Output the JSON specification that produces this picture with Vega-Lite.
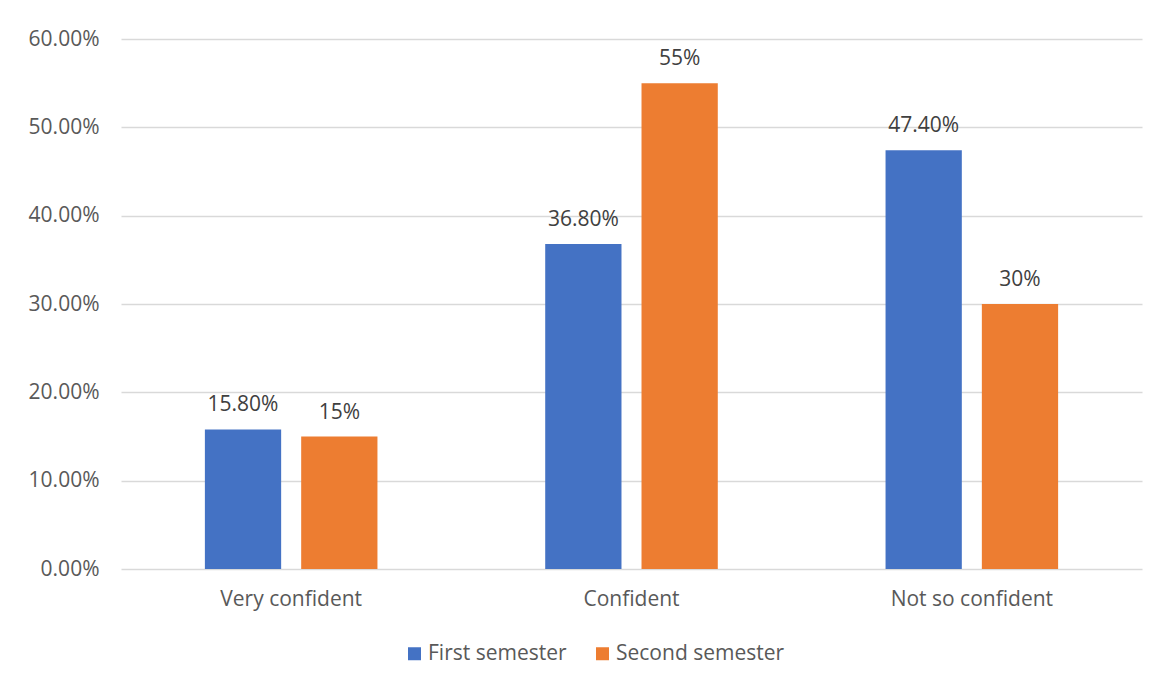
{
  "$schema": "https://vega.github.io/schema/vega-lite/v6.json",
  "autosize": "none",
  "width": 1021,
  "height": 530,
  "padding": {"left": 121, "top": 39, "right": 15, "bottom": 116},
  "background": "white",
  "config": {"view": {"stroke": null}},
  "data": {
    "values": [
      {"level": "Very confident", "semester": "First semester", "share": 0.158, "label": "15.80%"},
      {"level": "Very confident", "semester": "Second semester", "share": 0.15, "label": "15%"},
      {"level": "Confident", "semester": "First semester", "share": 0.368, "label": "36.80%"},
      {"level": "Confident", "semester": "Second semester", "share": 0.55, "label": "55%"},
      {"level": "Not so confident", "semester": "First semester", "share": 0.474, "label": "47.40%"},
      {"level": "Not so confident", "semester": "Second semester", "share": 0.3, "label": "30%"}
    ]
  },
  "encoding": {
    "x": {
      "field": "level",
      "type": "nominal",
      "sort": ["Very confident", "Confident", "Not so confident"],
      "scale": {"paddingInner": 0, "paddingOuter": 0},
      "axis": {
        "title": null,
        "labelAngle": 0,
        "domain": false,
        "ticks": false,
        "labelPadding": 19,
        "labelFont": "Open Sans",
        "labelFontSize": 21,
        "labelColor": "#595959"
      }
    },
    "xOffset": {
      "field": "semester",
      "type": "nominal",
      "sort": ["First semester", "Second semester"],
      "scale": {"paddingInner": 0.208, "paddingOuter": 0.871}
    },
    "y": {
      "field": "share",
      "type": "quantitative",
      "scale": {"domain": [0, 0.6], "nice": false},
      "axis": {
        "title": null,
        "format": ".2%",
        "values": [0, 0.1, 0.2, 0.3, 0.4, 0.5, 0.6],
        "domain": false,
        "ticks": false,
        "labelPadding": 22,
        "labelFont": "Open Sans",
        "labelFontSize": 21,
        "labelColor": "#595959",
        "grid": true,
        "gridColor": "#d9d9d9",
        "gridWidth": 1.3
      }
    }
  },
  "layer": [
    {
      "mark": {"type": "bar"},
      "encoding": {
        "color": {
          "field": "semester",
          "type": "nominal",
          "sort": ["First semester", "Second semester"],
          "scale": {"range": ["#4472C4", "#ED7D31"]},
          "legend": {
            "title": null,
            "orient": "none",
            "direction": "horizontal",
            "legendX": 283,
            "legendY": 604,
            "symbolType": "square",
            "symbolSize": 169,
            "symbolStrokeWidth": 0,
            "symbolOpacity": 1,
            "labelFont": "Open Sans",
            "labelFontSize": 21,
            "labelColor": "#595959",
            "labelOffset": 3,
            "labelLimit": 0,
            "columnPadding": 25
          }
        }
      }
    },
    {
      "mark": {
        "type": "text",
        "baseline": "alphabetic",
        "dy": -18,
        "font": "Open Sans",
        "fontSize": 21,
        "color": "#404040"
      },
      "encoding": {"text": {"field": "label"}}
    }
  ]
}
